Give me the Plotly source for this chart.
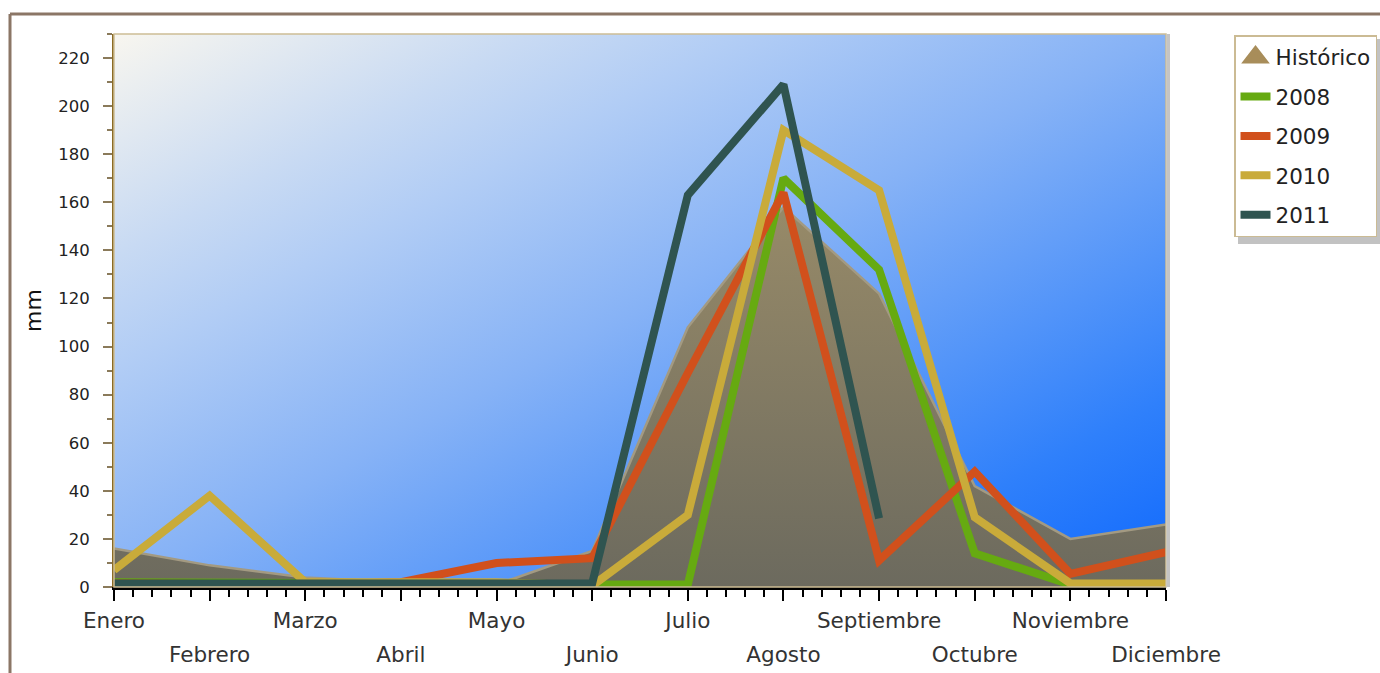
import base64
import plotly.graph_objects as go

# ---------------- data ----------------
months = ["Enero", "Febrero", "Marzo", "Abril", "Mayo", "Junio", "Julio",
          "Agosto", "Septiembre", "Octubre", "Noviembre", "Diciembre"]
historico = [16, 9, 4, 2, 1, 15, 108, 158, 122, 42, 20, 26]
y2008 = [2, 2, 2, 1.5, 1.5, 1, 1, 170, 132, 14, 1, 1]
y2009 = [1.5, 1, 1, 2, 10, 12, 89, 164, 11, 48, 5.5, 14.5]
y2010 = [7, 38, 2, 2, 2, 0.5, 30, 190, 165, 29, 1.5, 1.5]
y2011 = [1.5, 1.5, 1.5, 1.5, 1.5, 1.5, 163, 209, 28.5, None, None, None]
y_ticks = list(range(0, 221, 20))

series = [("2008", y2008, "#66aa11"), ("2009", y2009, "#d1501c"),
          ("2010", y2010, "#c9ab3a"), ("2011", y2011, "#2f5450")]

xi = list(range(len(months)))
FONT = "DejaVu Sans"

# ---------------- background gradient (svg) ----------------
svg = ('<svg xmlns="http://www.w3.org/2000/svg" width="1052" height="553" '
       'viewBox="0 0 1052 553" preserveAspectRatio="none"><defs>'
       '<linearGradient id="g" x1="0" y1="0" x2="1" y2="1">'
       '<stop offset="0" stop-color="#f8f6ef"/>'
       '<stop offset="0.2" stop-color="#c8daf3"/>'
       '<stop offset="0.3" stop-color="#b2cdf5"/>'
       '<stop offset="0.5" stop-color="#86b2f6"/>'
       '<stop offset="0.83" stop-color="#2f80fb"/>'
       '<stop offset="1" stop-color="#0f68fd"/>'
       '</linearGradient></defs>'
       '<rect width="1052" height="553" fill="url(#g)"/></svg>')
bg_src = "data:image/svg+xml;base64," + base64.b64encode(svg.encode()).decode()

fig = go.Figure()

# Histórico area
fig.add_trace(go.Scatter(
    x=xi, y=historico, mode="lines", fill="tozeroy",
    line=dict(color="#a39a82", width=2.5),
    fillgradient=dict(type="vertical",
                      colorscale=[[0, "#6c6a5e"], [1, "#978a68"]]),
    showlegend=False, hoverinfo="skip", name="Histórico"))

# legend entry for Histórico (triangle symbol)
fig.add_trace(go.Scatter(
    x=[None], y=[None], mode="markers", name="Histórico", legendgroup="h",
    marker=dict(symbol="triangle-up", size=16, color="#a88d5a",
                line=dict(color="#a88d5a", width=5))))

for name, vals, col in series:
    fig.add_trace(go.Scatter(
        x=xi, y=vals, mode="lines", name=name, legendgroup=name,
        line=dict(color=col, width=8)))

# dummy trace for second-row labels axis
fig.add_trace(go.Scatter(x=[None], y=[None], xaxis="x2", showlegend=False,
                         hoverinfo="skip"))

top_text = [m if i % 2 == 0 else "" for i, m in enumerate(months)]
bot_vals = [i for i in xi if i % 2 == 1]
bot_text = [months[i] for i in bot_vals]

# page-pixel -> paper helpers (plot area 114..1166 x, 34..587 y)
def px_x(p):
    return (p - 114) / 1052.0

def px_y(p):
    return (587 - p) / 553.0

fig.update_layout(
    width=1380, height=673,
    margin=dict(l=114, r=214, t=34, b=86, autoexpand=False),
    paper_bgcolor="white",
    plot_bgcolor="rgba(0,0,0,0)",
    font=dict(family=FONT, color="#222"),
    images=[dict(source=bg_src, xref="paper", yref="paper", x=0, y=1,
                 sizex=1, sizey=1, xanchor="left", yanchor="top",
                 sizing="stretch", layer="below")],
    xaxis=dict(range=[0, 11], tickmode="array", tickvals=xi, ticktext=top_text,
               ticks="outside", ticklen=11, tickwidth=1.5, tickcolor="black",
               showline=True, linecolor="black", linewidth=3,
               showgrid=False, zeroline=False, automargin=False,
               tickfont=dict(size=21.5, color="#333", family=FONT),
               ticklabelstandoff=1,
               minor=dict(dtick=0.2, tick0=0, ticks="outside", ticklen=7,
                          tickwidth=1.5, tickcolor="black", showgrid=False)),
    xaxis2=dict(range=[0, 11], overlaying="x", anchor="y", side="bottom",
                tickmode="array", tickvals=bot_vals, ticktext=bot_text,
                ticks="", showline=False, showgrid=False, zeroline=False,
                automargin=False,
                tickfont=dict(size=21.5, color="#333", family=FONT),
                ticklabelstandoff=52),
    yaxis=dict(range=[0, 230], tickmode="array", tickvals=y_ticks,
               ticks="outside", ticklen=9, tickwidth=1.5, tickcolor="#8a7a5a",
               showline=True, linecolor="#8b6b24", linewidth=2,
               showgrid=False, zeroline=False, automargin=False,
               tickfont=dict(size=16.5, color="#222", family=FONT),
               ticklabelstandoff=10,
               title=dict(text="mm", font=dict(size=22, color="#111", family=FONT),
                          standoff=11),
               minor=dict(dtick=10, tick0=0, ticks="outside", ticklen=5,
                          tickwidth=1.5, tickcolor="#8a7a5a", showgrid=False)),
    legend=dict(x=px_x(1234), y=px_y(35), xanchor="left", yanchor="top",
                bgcolor="white", bordercolor="#cbbb94", borderwidth=1.5,
                font=dict(size=21.5, color="#222", family=FONT),
                traceorder="grouped", tracegroupgap=8.5, itemwidth=30),
    shapes=[
        # plot border
        dict(type="rect", xref="paper", yref="paper", x0=0, x1=1, y0=0, y1=1,
             line=dict(color="#cdbd95", width=1.5), layer="above"),
        # right shadow of plot area
        dict(type="rect", xref="paper", yref="paper", x0=1.0005, x1=px_x(1170),
             y0=0, y1=1, fillcolor="#c4c4c4", line=dict(width=0)),
        # legend shadow
        dict(type="rect", xref="paper", yref="paper", x0=px_x(1238), x1=px_x(1381),
             y0=px_y(244), y1=px_y(39), fillcolor="rgba(120,120,120,0.45)",
             line=dict(width=0)),
        # outer frame
        dict(type="line", xref="paper", yref="paper", x0=px_x(10), x1=px_x(1385),
             y0=px_y(14), y1=px_y(14), line=dict(color="#8b7666", width=3)),
        dict(type="line", xref="paper", yref="paper", x0=px_x(10), x1=px_x(10),
             y0=px_y(14), y1=px_y(680), line=dict(color="#8b7666", width=3)),
    ],
    hovermode=False,
)

fig.write_html("out.html",
               config={"displayModeBar": False},
               post_script="document.body.style.margin='0';"
                           "document.documentElement.style.overflow='hidden';")
